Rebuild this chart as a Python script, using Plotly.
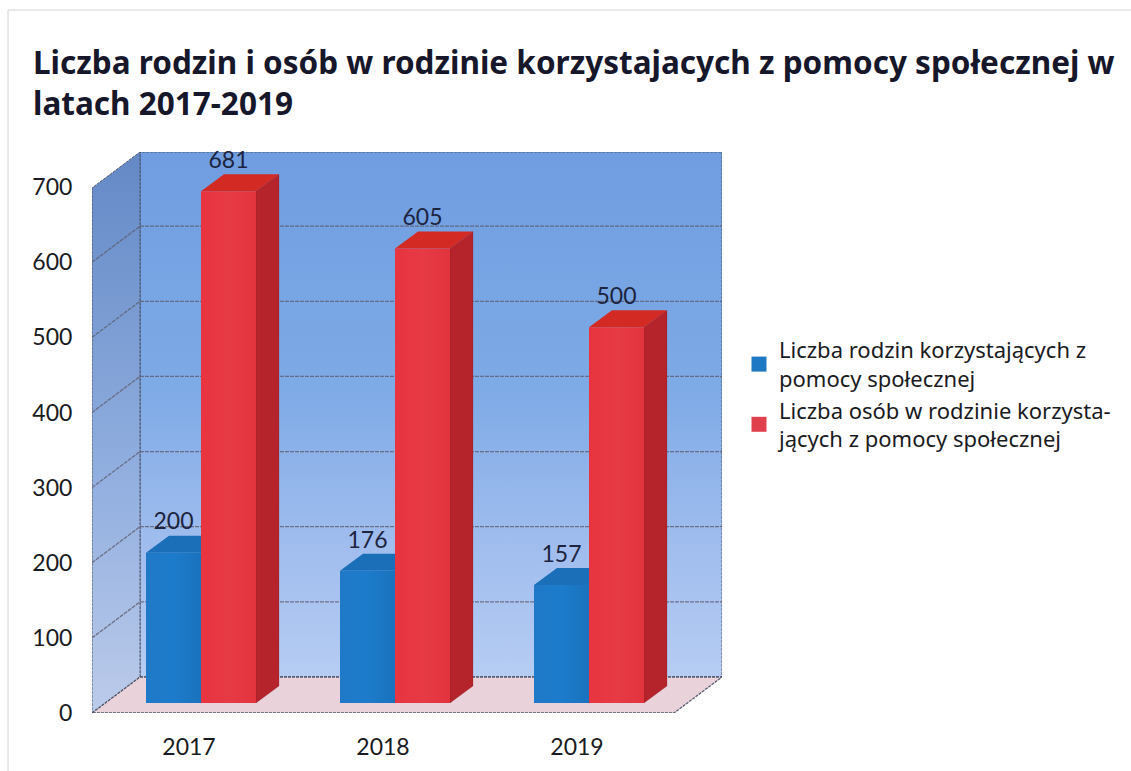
import plotly.graph_objects as go

years = ["2017", "2018", "2019"]
families = [200, 176, 157]
persons = [681, 605, 500]
series_names = ["Liczba rodzin korzystających z<br>pomocy społecznej",
                "Liczba osób w rodzinie korzysta-<br>jących z pomocy społecznej"]
y_ticks = [0, 100, 200, 300, 400, 500, 600, 700]
title_text = "Liczba rodzin i osób w rodzinie korzystajacych z pomocy społecznej w<br>latach 2017-2019"

W, H = 1131, 771
PX_L, PX_R, PX_B, PX_T = 92, 722, 713, 152
PX_CAT = 194.0
PX_UNIT = 0.7514


def dx(px):
    return px / PX_CAT


def dy(px):
    return px / PX_UNIT


X0 = -0.5
X1 = 2.5
DX, DY = dx(48), dy(36)
XMAX = X0 + (PX_R - PX_L) / PX_CAT
YMAX = (PX_B - PX_T) / PX_UNIT

BAR_W = dx(55)
BAR_DX, BAR_DY = dx(23), dy(17)
BASE_X, BASE_Y = dx(12), dy(10)
LABEL_UP = dy(29)

EDGE = "rgba(70,75,95,0.9)"
GRID = "rgba(95,92,110,0.8)"

fig = go.Figure()


def poly(xs, ys, fill=None, grad=None, line=None, dash="solid", width=1, closed=True):
    kw = {}
    if grad:
        kw["fillgradient"] = dict(type=grad[0], colorscale=grad[1])
        kw["fillcolor"] = grad[1][0][1]
    elif fill:
        kw["fillcolor"] = fill
    if closed:
        xs, ys = list(xs) + [xs[0]], list(ys) + [ys[0]]
    fig.add_trace(go.Scatter(
        x=xs, y=ys, mode="lines",
        fill="toself" if closed else None,
        line=dict(color=line or "rgba(0,0,0,0)", width=width, dash=dash),
        hoverinfo="skip", showlegend=False, **kw))


# back wall, side wall, floor
wall_scale = [[0, "#b6cdf3"], [0.25, "#a0bdee"], [0.55, "#7eaae6"], [1, "#6f9de0"]]
side_scale = [[0, "#bccbea"], [0.4, "#93b0e0"], [1, "#6389c6"]]
poly([X0 + DX, XMAX, XMAX, X0 + DX], [DY, DY, YMAX, YMAX],
     grad=("vertical", wall_scale), line=EDGE, dash="3px,1px")
poly([X0, X0 + DX, X0 + DX, X0], [0, DY, YMAX, YMAX - DY],
     grad=("vertical", side_scale), line=EDGE, dash="3px,1px")
poly([X0, X0 + DX, XMAX, X1], [0, DY, DY, 0], fill="#ead2da", line=EDGE, dash="3px,1px", width=1.3)

# gridlines on walls
for t in y_ticks[1:-1]:
    poly([X0, X0 + DX, XMAX], [t, t + DY, t + DY], line=GRID, dash="4px,1px", width=1.3, closed=False)


def bar(cx_left, value, front_scale, top_col, side_col):
    xl = cx_left
    xr = cx_left + BAR_W
    b = BASE_Y
    t = BASE_Y + value
    poly([xr, xr + BAR_DX, xr + BAR_DX, xr], [b, b + BAR_DY, t + BAR_DY, t],
         fill=side_col, line="rgba(90,20,30,0.35)", width=0.5)
    poly([xl, xl + BAR_DX, xr + BAR_DX, xr], [t, t + BAR_DY, t + BAR_DY, t], fill=top_col)
    poly([xl, xr, xr, xl], [b, b, t, t], grad=("horizontal", front_scale))


BLUE_F = [[0, "#1f79c7"], [0.5, "#1c7ccb"], [1, "#1a72bd"]]
RED_F = [[0, "#e8343f"], [0.5, "#e63a45"], [1, "#e2343d"]]
for i in range(len(years)):
    left = i + BASE_X - BAR_W
    bar(left, families[i], BLUE_F, "#1a6fb8", "#17609f")
    bar(left + BAR_W, persons[i], RED_F, "#d32b23", "#b5242a")

# value labels
for offset, vals in ((-BAR_W / 2, families), (BAR_W / 2, persons)):
    fig.add_trace(go.Scatter(
        x=[i + BASE_X + offset for i in range(len(years))],
        y=[v + BASE_Y + LABEL_UP for v in vals],
        text=[str(v) for v in vals], mode="text", textposition="middle center",
        textfont=dict(family="Lato, sans-serif", size=23, color="#1c2440"),
        cliponaxis=False, hoverinfo="skip", showlegend=False))

# legend entries
for name, col in zip(series_names, ["#1f78c4", "#e0404e"]):
    fig.add_trace(go.Scatter(x=[None], y=[None], mode="markers", name=name,
                             marker=dict(symbol="square", size=15, color=col)))

fig.update_layout(
    width=W, height=H, margin=dict(l=0, r=0, t=0, b=0, autoexpand=False),
    paper_bgcolor="white", plot_bgcolor="white",
    font=dict(family="Lato, sans-serif", color="#1a1a22"),
    title=dict(text=title_text, x=33 / W, xanchor="left", y=1 - 74 / H, yanchor="top",
               font=dict(family="Noto Sans, sans-serif", size=31.5, color="#17172b", weight="bold")),
    xaxis=dict(domain=[PX_L / W, PX_R / W], range=[X0, XMAX], showgrid=False, zeroline=False,
               showline=False, tickmode="array", tickvals=list(range(len(years))), ticktext=years,
               ticks="outside", ticklen=13, tickcolor="rgba(0,0,0,0)", tickfont=dict(size=23),
               automargin=False),
    yaxis=dict(domain=[1 - PX_B / H, 1 - PX_T / H], range=[0, YMAX], showgrid=False, zeroline=False,
               showline=False, tickmode="array", tickvals=y_ticks,
               ticks="outside", ticklen=14, tickcolor="rgba(0,0,0,0)", tickfont=dict(size=23),
               automargin=False),
    legend=dict(x=739 / W, xanchor="left", y=1 - 329 / H, yanchor="top", bgcolor="rgba(0,0,0,0)",
                font=dict(family="Noto Sans, sans-serif", size=22, color="#1a1a22"),
                itemwidth=30, tracegroupgap=0),
    shapes=[
        dict(type="line", xref="paper", yref="paper", x0=8 / W, x1=8 / W, y0=0, y1=1 - 10 / H,
             line=dict(color="#d4d4d4", width=1)),
        dict(type="line", xref="paper", yref="paper", x0=8 / W, x1=1, y0=1 - 10 / H, y1=1 - 10 / H,
             line=dict(color="#d4d4d4", width=1)),
    ],
)

fig.write_html("out.html", config={"displayModeBar": False},
               post_script="document.body.style.margin='0';")
